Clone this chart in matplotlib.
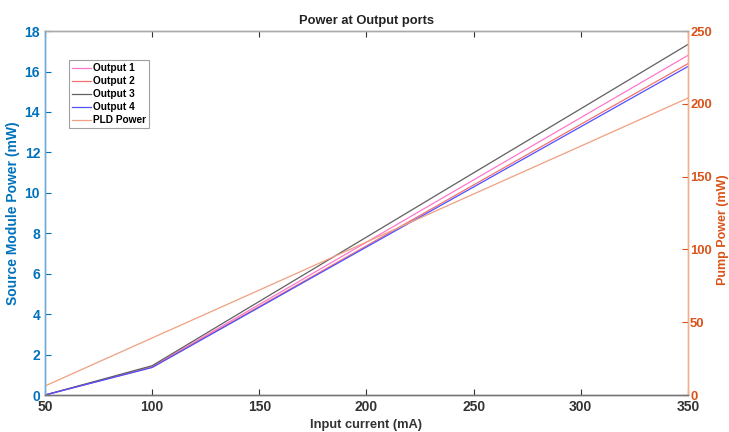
import matplotlib.pyplot as plt

plt.rcParams["font.family"] = ["Liberation Sans", "DejaVu Sans"]
plt.rcParams["font.weight"] = "bold"

current_ma = [50, 100, 150, 200, 250, 300, 350]
output_1 = [0.0, 1.40, 4.48, 7.56, 10.64, 13.72, 16.80]
output_2 = [0.0, 1.38, 4.38, 7.38, 10.39, 13.39, 16.39]
output_3 = [0.0, 1.45, 4.63, 7.81, 10.99, 14.16, 17.34]
output_4 = [0.0, 1.36, 4.34, 7.32, 10.29, 13.27, 16.25]
pld_power = [6.2, 39.2, 72.1, 105.1, 138.1, 171.0, 204.0]

BLUE = "#0072BD"
ORANGE = "#D95319"

fig = plt.figure(figsize=(7.29, 4.32), dpi=100)
ax = fig.add_axes([0.0617, 0.0856, 0.8820, 0.8424])
ax2 = ax.twinx()

ax.plot(current_ma, output_1, color="#FF77CC", lw=0.9, label="Output 1")
ax.plot(current_ma, output_2, color="#F07070", lw=0.9, label="Output 2")
ax.plot(current_ma, output_3, color="#606060", lw=0.9, label="Output 3")
ax.plot(current_ma, output_4, color="#5050FF", lw=0.9, label="Output 4")
ax2.plot(current_ma, pld_power, color="#F0A080", lw=0.9, label="PLD Power")

ax.set_xlim(50, 350)
ax.set_ylim(0, 18)
ax2.set_ylim(0, 250)
ax.set_xticks(range(50, 351, 50))
ax.set_yticks(range(0, 19, 2))
ax2.set_yticks(range(0, 251, 50))

ax.set_title("Power at Output ports", fontsize=9.3, fontweight="bold", color="#222222", pad=5)
ax.set_xlabel("Input current (mA)", fontsize=9.3, fontweight="bold", color="#333333")
ax.set_ylabel("Source Module Power (mW)", fontsize=10, fontweight="bold", color=BLUE)
ax2.set_ylabel("Pump Power (mW)", fontsize=9, fontweight="bold", color=ORANGE)
ax.yaxis.set_label_coords(-0.039, 0.5)
ax2.yaxis.set_label_coords(1.045, 0.455)

ax.tick_params(axis="x", direction="in", top=True, colors="#333333", labelsize=10, length=4)
ax.tick_params(axis="y", direction="in", colors=BLUE, labelsize=10, length=4)
ax2.tick_params(axis="y", direction="in", colors=ORANGE, labelsize=9.4, length=4, pad=1.5)

for a in (ax, ax2):
    a.spines["top"].set_color("#AAAAAA")
    a.spines["bottom"].set_color("#777777")
    a.spines["left"].set_color("#6FAAD8")
    a.spines["right"].set_color("#F2AE90")
    for s in a.spines.values():
        s.set_linewidth(1.0)

h1, l1 = ax.get_legend_handles_labels()
h2, l2 = ax2.get_legend_handles_labels()
leg = ax2.legend(h1 + h2, l1 + l2, loc="upper left", bbox_to_anchor=(0.037, 0.92),
                 borderaxespad=0, fontsize=7.3, frameon=True, fancybox=False,
                 borderpad=0.3, labelspacing=0.3, handlelength=1.9,
                 handletextpad=0.2)
leg.get_frame().set_edgecolor("#888888")
leg.get_frame().set_linewidth(0.8)
for t in leg.get_texts():
    t.set_fontweight("bold")

fig.savefig("out.png", dpi=100)
